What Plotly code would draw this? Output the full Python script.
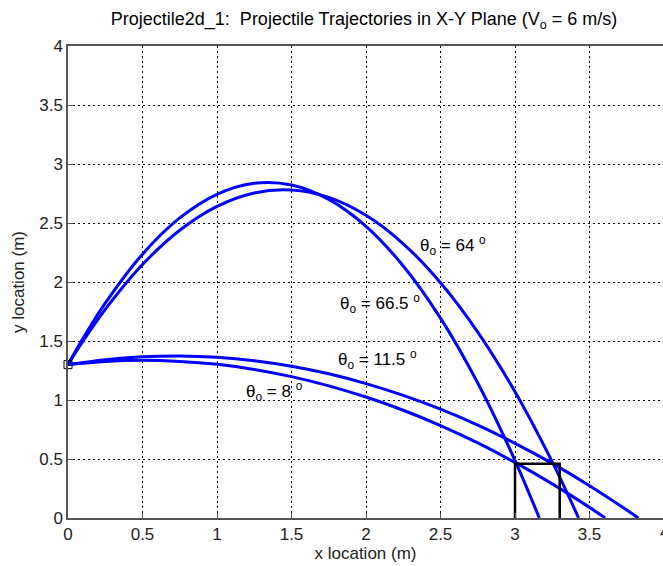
import plotly.graph_objects as go

# Trajectory points (x in m, y in m)
x_8 = [0, 0.25, 0.5, 0.75, 1.0, 1.25, 1.5, 1.75, 2.0, 2.25, 2.5, 2.75, 3.0, 3.25, 3.5, 3.606]
y_8 = [1.3, 1.327, 1.336, 1.327, 1.302, 1.259, 1.198, 1.120, 1.025, 0.913, 0.783, 0.636, 0.471, 0.289, 0.090, 0.0]

x_115 = [0, 0.25, 0.5, 0.75, 1.0, 1.25, 1.5, 1.75, 2.0, 2.25, 2.5, 2.75, 3.0, 3.25, 3.5, 3.75, 3.828]
y_115 = [1.3, 1.342, 1.366, 1.373, 1.362, 1.333, 1.286, 1.222, 1.139, 1.039, 0.922, 0.787, 0.633, 0.463, 0.274, 0.068, 0.0]

x_64 = [0, 0.1, 0.25, 0.5, 0.75, 1.0, 1.25, 1.5, 1.75, 2.0, 2.25, 2.5, 2.75, 3.0, 3.25, 3.427]
y_64 = [1.3, 1.498, 1.768, 2.148, 2.439, 2.641, 2.755, 2.780, 2.717, 2.565, 2.324, 1.994, 1.576, 1.070, 0.475, 0.0]

x_665 = [0, 0.1, 0.25, 0.5, 0.75, 1.0, 1.25, 1.5, 1.75, 2.0, 2.25, 2.5, 2.75, 3.0, 3.163]
y_665 = [1.3, 1.521, 1.821, 2.236, 2.543, 2.743, 2.836, 2.822, 2.700, 2.472, 2.136, 1.694, 1.144, 0.487, 0.0]

box_x = [3.0, 3.0, 3.3, 3.3]
box_y = [0.0, 0.46, 0.46, 0.0]

launch_x = [0]
launch_y = [1.3]

labels = [
    ("θ<sub>o</sub> = 64 <sup>o</sup>", 2.35, 2.31),
    ("θ<sub>o</sub> = 66.5 <sup>o</sup>", 1.81, 1.82),
    ("θ<sub>o</sub> = 11.5 <sup>o</sup>", 1.80, 1.34),
    ("θ<sub>o</sub> = 8 <sup>o</sup>", 1.18, 1.07),
]

x_ticks = [0, 0.5, 1, 1.5, 2, 2.5, 3, 3.5, 4]
y_ticks = [0, 0.5, 1, 1.5, 2, 2.5, 3, 3.5, 4]

FONT = "Liberation Sans, Arial, sans-serif"
BLUE = "#0000FF"
TXT = "#222"

W, H = 663, 566
L, R, T, B = 68, 0, 46, 48
PX_PER_UNIT = 149.0
xmax = (W - L - R) / PX_PER_UNIT

fig = go.Figure()
for xs, ys in [(x_64, y_64), (x_665, y_665), (x_115, y_115), (x_8, y_8)]:
    fig.add_trace(go.Scatter(x=xs, y=ys, mode="lines", line=dict(color=BLUE, width=3, shape="spline"),
                             showlegend=False, hoverinfo="skip"))
fig.add_trace(go.Scatter(x=box_x, y=box_y, mode="lines", line=dict(color="black", width=2.5),
                         showlegend=False, hoverinfo="skip"))
fig.add_trace(go.Scatter(x=launch_x, y=launch_y, mode="markers",
                         marker=dict(symbol="square-open", size=8, color="black", line=dict(width=1)),
                         showlegend=False, hoverinfo="skip", cliponaxis=False))

for txt, x, y in labels:
    fig.add_annotation(x=x, y=y, text=txt, showarrow=False, xanchor="left", yanchor="middle",
                       font=dict(family=FONT, size=17, color="black"))

# right-edge tick label "4" that falls at the window border
fig.add_annotation(x=x_ticks[-1] / xmax, xref="paper", y=0, yref="paper", text=str(x_ticks[-1]),
                   showarrow=False, xanchor="center", yanchor="top", yshift=-3,
                   font=dict(family=FONT, size=17, color=TXT))

fig.update_layout(
    width=W, height=H,
    margin=dict(l=L, r=R, t=T, b=B, autoexpand=False),
    paper_bgcolor="white", plot_bgcolor="white",
    font=dict(family=FONT, size=17, color="black"),
    title=dict(text="Projectile2d_1:  Projectile Trajectories in X-Y Plane (V<sub>o</sub> = 6 m/s)",
               x=364 / W, xanchor="center", y=1 - 19 / H, yanchor="middle", yref="container",
               font=dict(family=FONT, size=18, color="black")),
)
fig.update_xaxes(range=[0, xmax], tickvals=x_ticks, ticktext=[str(v) for v in x_ticks],
                 showgrid=True, gridcolor="black", griddash="2px,3px", gridwidth=1,
                 zeroline=False, showline=True, linecolor="#555", linewidth=1.5, mirror=True,
                 ticks="inside", ticklen=5, tickcolor="#555", automargin=False,
                 tickfont=dict(family=FONT, size=17, color=TXT),
                 title=dict(text="x location (m)", standoff=0, font=dict(family=FONT, size=17, color=TXT)))
fig.update_yaxes(range=[0, 4], tickvals=y_ticks, ticktext=[str(v) for v in y_ticks],
                 showgrid=True, gridcolor="black", griddash="2px,3px", gridwidth=1,
                 zeroline=False, showline=True, linecolor="#555", linewidth=1.5, mirror=False,
                 ticks="inside", ticklen=5, tickcolor="#555", automargin=False,
                 tickfont=dict(family=FONT, size=17, color=TXT),
                 title=dict(text="y location (m)", standoff=10, font=dict(family=FONT, size=17, color=TXT)))

fig.write_html("out.html", config={"displayModeBar": False},
               post_script="document.body.style.margin='0';document.body.style.overflow='hidden';")
